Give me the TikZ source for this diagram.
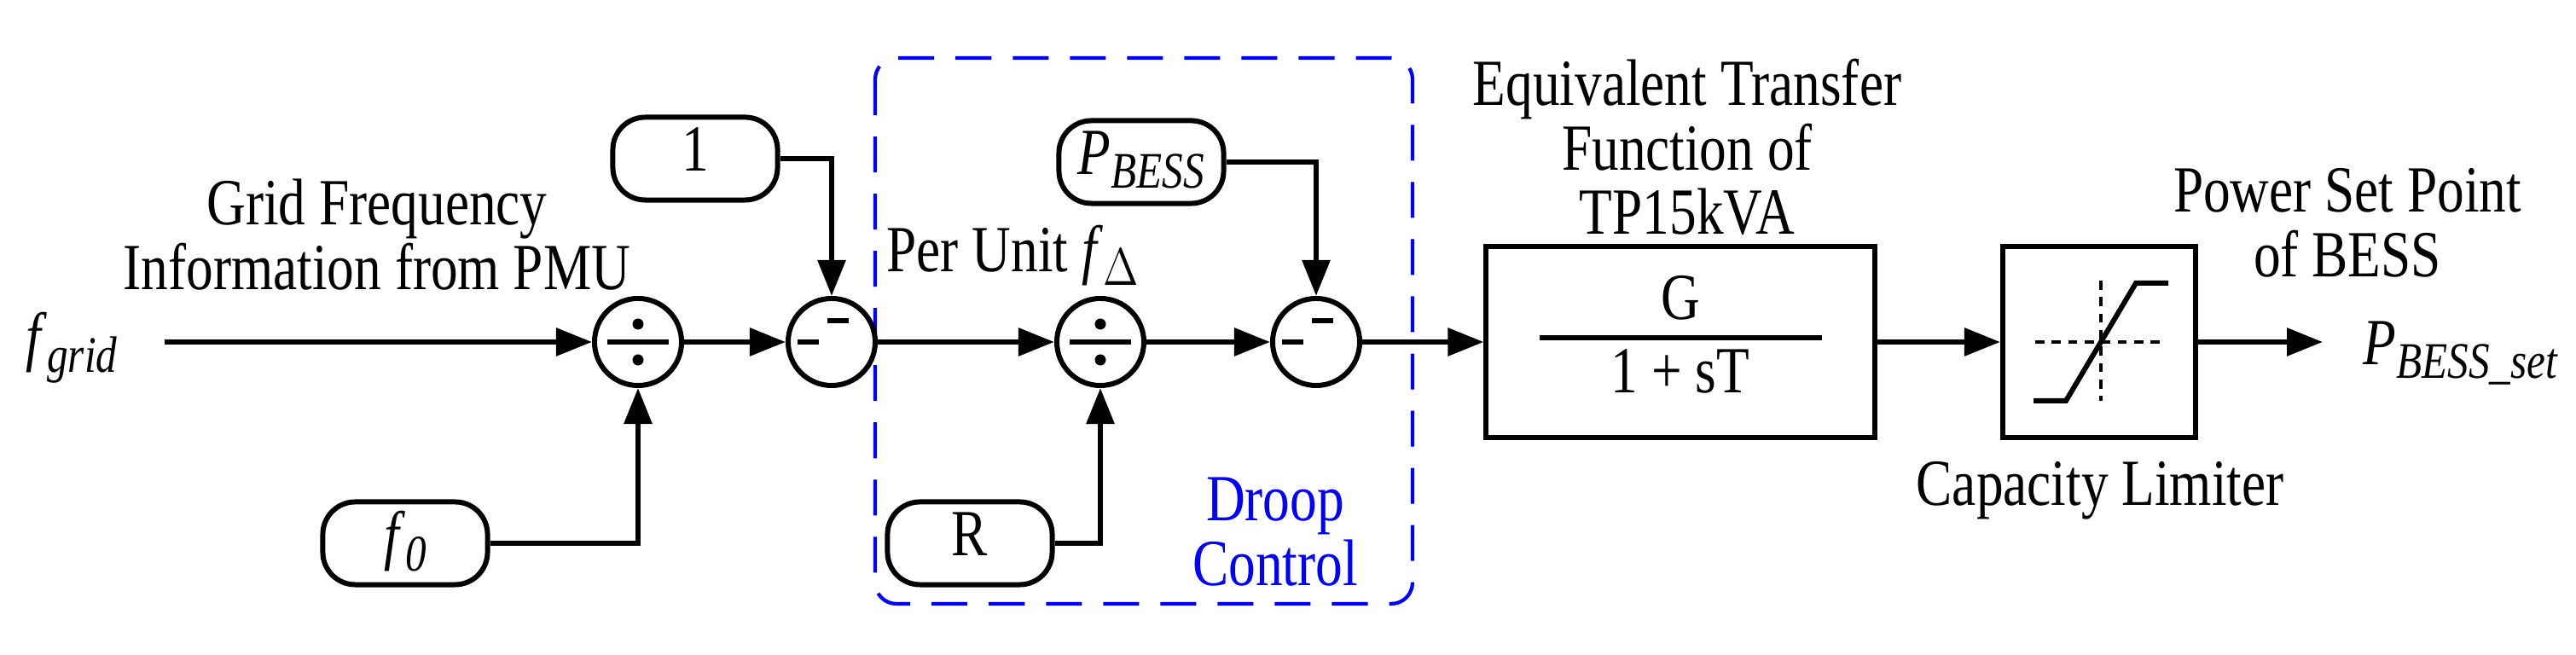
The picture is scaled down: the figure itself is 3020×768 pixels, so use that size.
\documentclass[tikz,border=0pt]{standalone}
\usepackage{fontspec}
\setmainfont{Liberation Serif}
\usetikzlibrary{arrows.meta}
\newcommand{\mysub}[2]{\textit{#1}\raisebox{-0.45ex}{\textit{\fontsize{14}{14}\selectfont #2}}}
\newcommand{\tx}[1]{\scalebox{1}[1.22]{\fontsize{18}{16.8}\selectfont\begin{tabular}{@{}c@{}}#1\end{tabular}}}
\begin{document}
\begin{tikzpicture}[x=0.01cm,y=-0.01cm,
  lw/.style={line width=1.7pt},
  arr/.style={lw,-{Triangle[length=0.42cm,width=0.32cm]}},
  sum/.style={lw,draw,circle,minimum size=1.02cm,inner sep=0pt},
  rbox/.style={lw,draw,rounded corners=0.38cm,minimum width=1.93cm,minimum height=0.97cm,inner sep=0pt},
  blk/.style={lw,draw,inner sep=0pt},
  txt/.style={align=center,inner sep=0pt},
  bar/.style={line width=1.7pt}]
\useasboundingbox (0,0) rectangle (3020,768);
\fill[white] (0,0) rectangle (3020,768);
% dashed droop region
\draw[blue,line width=1.2pt,dash pattern=on 0.42cm off 0.25cm,rounded corners=0.25cm] (1026,68) rectangle (1656,708);
% texts
\node[txt] (fgrid) at (84,408) {\tx{\mysub{f}{grid}}};
\node[txt] (gfi) at (442,286) {\tx{Grid Frequency\\Information from PMU}};
\node[txt] (pu) at (1187,302) {\tx{Per Unit \mysub{f}{$\Delta$}}};
\node[txt,text=blue] (droop) at (1495,634) {\tx{Droop\\Control}};
\node[txt] (etf) at (1978,183) {\tx{Equivalent Transfer\\Function of\\TP15kVA}};
\node[txt] (psp) at (2752,272) {\tx{Power Set Point\\of BESS}};
\node[txt] (cap) at (2462,578) {\tx{Capacity Limiter}};
\node[txt,anchor=west] (pout) at (2770,414) {\tx{\mysub{P}{BESS\_set}}};
% sum / divide junctions
\node[sum] (d1) at (748,401) {};
\node[sum] (d2) at (975,401) {};
\node[sum] (d3) at (1290,401) {};
\node[sum] (d4) at (1543,401) {};
\foreach \n in {d1,d3}{
  \draw[bar] ([xshift=-0.36cm]\n.center) -- ([xshift=0.36cm]\n.center);
  \fill ([yshift=0.21cm]\n.center) circle (0.065cm);
  \fill ([yshift=-0.21cm]\n.center) circle (0.065cm);}
\foreach \n in {d2,d4}{
  \draw[bar] ([xshift=-0.05cm,yshift=0.25cm]\n.center) -- ([xshift=0.2cm,yshift=0.25cm]\n.center);
  \draw[bar] ([xshift=-0.4cm]\n.center) -- ([xshift=-0.15cm]\n.center);}
% constant boxes
\node[rbox,txt] (one) at (815,186) {\tx{1}};
\node[rbox,txt] (f0) at (475,637) {\tx{\mysub{f}{0}}};
\node[rbox,txt] (pb) at (1338,190) {\tx{\mysub{P}{BESS}}};
\node[rbox,txt] (rr) at (1137,637) {\tx{R}};
% transfer function
\node[blk,minimum width=4.55cm,minimum height=2.23cm] (tf) at (1970,401) {};
\draw[bar] (1805,396) -- (2136,396);
\node[txt] (g) at (1970,360) {\tx{G}};
\node[txt] (den) at (1970,446) {\tx{1 + sT}};
% limiter
\node[blk,minimum width=2.26cm,minimum height=2.23cm] (lim) at (2461,401) {};
\draw[line width=0.9pt,dash pattern=on 3pt off 2.5pt] (2386,401) -- (2540,401);
\draw[line width=0.9pt,dash pattern=on 3pt off 2.5pt] (2463,329) -- (2463,470);
\draw[bar] (2384,470) -- (2422,470) -- (2504,332) -- (2542,332);
% connectors
\coordinate (in) at (193,401);
\coordinate (out) at (2723,401);
\draw[arr] (in) -- (d1.west);
\draw[arr] (d1.east) -- (d2.west);
\draw[arr] (d2.east) -- (d3.west);
\draw[arr] (d3.east) -- (d4.west);
\draw[arr] (d4.east) -- (tf.west);
\draw[arr] (tf.east) -- (lim.west);
\draw[arr] (lim.east) -- (out);
\draw[arr] (one.east) -| (d2.north);
\draw[arr] (pb.east) -| (d4.north);
\draw[arr] (f0.east) -| (d1.south);
\draw[arr] (rr.east) -| (d3.south);
\end{tikzpicture}
\end{document}
